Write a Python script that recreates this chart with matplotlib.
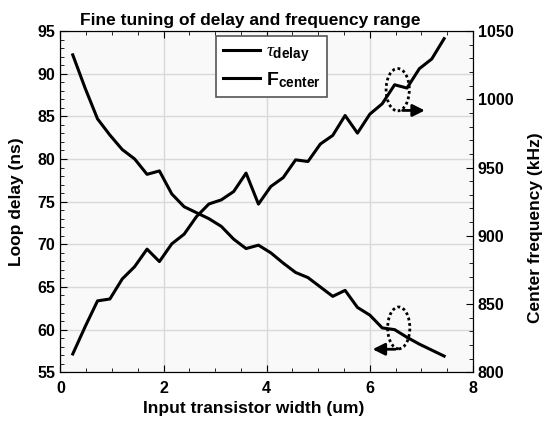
import numpy as np
import matplotlib
matplotlib.use('Agg')
import matplotlib.pyplot as plt
from matplotlib.patches import Ellipse
from matplotlib.ticker import MultipleLocator

plt.rcParams['font.family'] = ['Liberation Sans', 'DejaVu Sans']
plt.rcParams['font.weight'] = 'bold'
plt.rcParams['mathtext.fontset'] = 'custom'
plt.rcParams['mathtext.rm'] = 'Liberation Sans:weight=bold'
plt.rcParams['mathtext.it'] = 'Liberation Serif:style=italic:weight=normal'
plt.rcParams['mathtext.bf'] = 'Liberation Sans:weight=bold'

# transistor width (um)
width = [0.24, 0.48, 0.72, 0.96, 1.20, 1.44, 1.68, 1.92, 2.16, 2.40, 2.64,
         2.88, 3.12, 3.36, 3.60, 3.84, 4.08, 4.32, 4.56, 4.80, 5.04, 5.28,
         5.52, 5.76, 6.00, 6.24, 6.48, 6.72, 6.96, 7.20, 7.44]
# loop delay (ns)
delay = [92.2, 88.3, 84.7, 82.8, 81.1, 80.0, 78.2, 78.6, 75.9, 74.4, 73.7,
         73.0, 72.1, 70.6, 69.5, 69.9, 69.0, 67.8, 66.7, 66.1, 65.0, 63.9,
         64.6, 62.6, 61.7, 60.2, 60.0, 59.1, 58.3, 57.6, 56.9]
# center frequency (kHz)
fcenter = [813.4, 833.4, 852.3, 853.7, 868.4, 877.4, 890.2, 881.1, 894.1, 901.2, 914.1,
           923.3, 926.3, 932.4, 945.9, 923.2, 936.1, 942.6, 955.6, 954.4, 967.2, 973.5,
           988.1, 975.2, 989.1, 996.7, 1010.6, 1008.2, 1022.4, 1029.5, 1044.4]

fig = plt.figure(figsize=(5.44, 4.21), dpi=100)
fig.patch.set_facecolor('white')
ax = fig.add_axes([0.111, 0.1157, 0.7585, 0.8107])
ax.set_facecolor('#f9f9f9')
ax2 = ax.twinx()

l1, = ax.plot(width, delay, color='black', lw=2.2)
l2, = ax2.plot(width, fcenter, color='black', lw=2.2)

ax.set_xlim(0, 8)
ax.set_ylim(55, 95)
ax2.set_ylim(800, 1050)
ax.xaxis.set_major_locator(MultipleLocator(2))
ax.xaxis.set_minor_locator(MultipleLocator(0.5))
ax.yaxis.set_major_locator(MultipleLocator(5))
ax.yaxis.set_minor_locator(MultipleLocator(1))
ax2.yaxis.set_major_locator(MultipleLocator(50))
ax2.yaxis.set_minor_locator(MultipleLocator(10))

ax.grid(True, which='major', color='#d9d9d9', lw=1)
ax.set_axisbelow(True)
ax.tick_params(which='both', direction='in', top=True, labelsize=11.5)
ax.tick_params(axis='x', pad=6)
ax.tick_params(which='major', length=5)
ax.tick_params(which='minor', length=3)
ax2.tick_params(which='both', direction='in', labelsize=11.5)
ax2.tick_params(which='major', length=5)
ax2.tick_params(which='minor', length=3)
for a in (ax, ax2):
    for lab in a.get_xticklabels() + a.get_yticklabels():
        lab.set_fontweight('bold')

ax.set_xlabel('Input transistor width (um)', fontsize=12.5, fontweight='bold', labelpad=4, x=0.469)
ax.set_ylabel('Loop delay (ns)', fontsize=12.5, fontweight='bold', labelpad=10)
ax2.set_ylabel('Center frequency (kHz)', fontsize=12.5, fontweight='bold', labelpad=10, y=0.425)
ax.set_title('Fine tuning of delay and frequency range', fontsize=12.5, fontweight='bold', pad=4, x=0.46)

leg = ax.legend([l1, l2], [r'$\mathit{\tau}_{\mathbf{delay}}$', r'$\mathbf{F}_{\mathbf{center}}$'],
                loc='upper left', bbox_to_anchor=(0.377, 0.985), borderaxespad=0, fontsize=14,
                fancybox=False, edgecolor='#555555', framealpha=1,
                handlelength=1.9, borderpad=0.35, labelspacing=0.3, handletextpad=0.3)
leg.get_frame().set_linewidth(1.2)

# markers: which curve goes with which axis
ax2.add_patch(Ellipse((6.54, 1007), 0.45, 31, fill=False, ls=(0, (1, 1)), lw=2, color='black'))
ax2.annotate('', xy=(7.12, 991.8), xytext=(6.58, 991.8),
             arrowprops=dict(arrowstyle='-|>', color='black', lw=2, mutation_scale=18))
ax.add_patch(Ellipse((6.56, 60.2), 0.43, 4.9, fill=False, ls=(0, (1, 1)), lw=2, color='black'))
ax.annotate('', xy=(6.0, 57.7), xytext=(6.55, 57.7),
            arrowprops=dict(arrowstyle='-|>', color='black', lw=2, mutation_scale=18))

fig.savefig('out.png', dpi=100)
